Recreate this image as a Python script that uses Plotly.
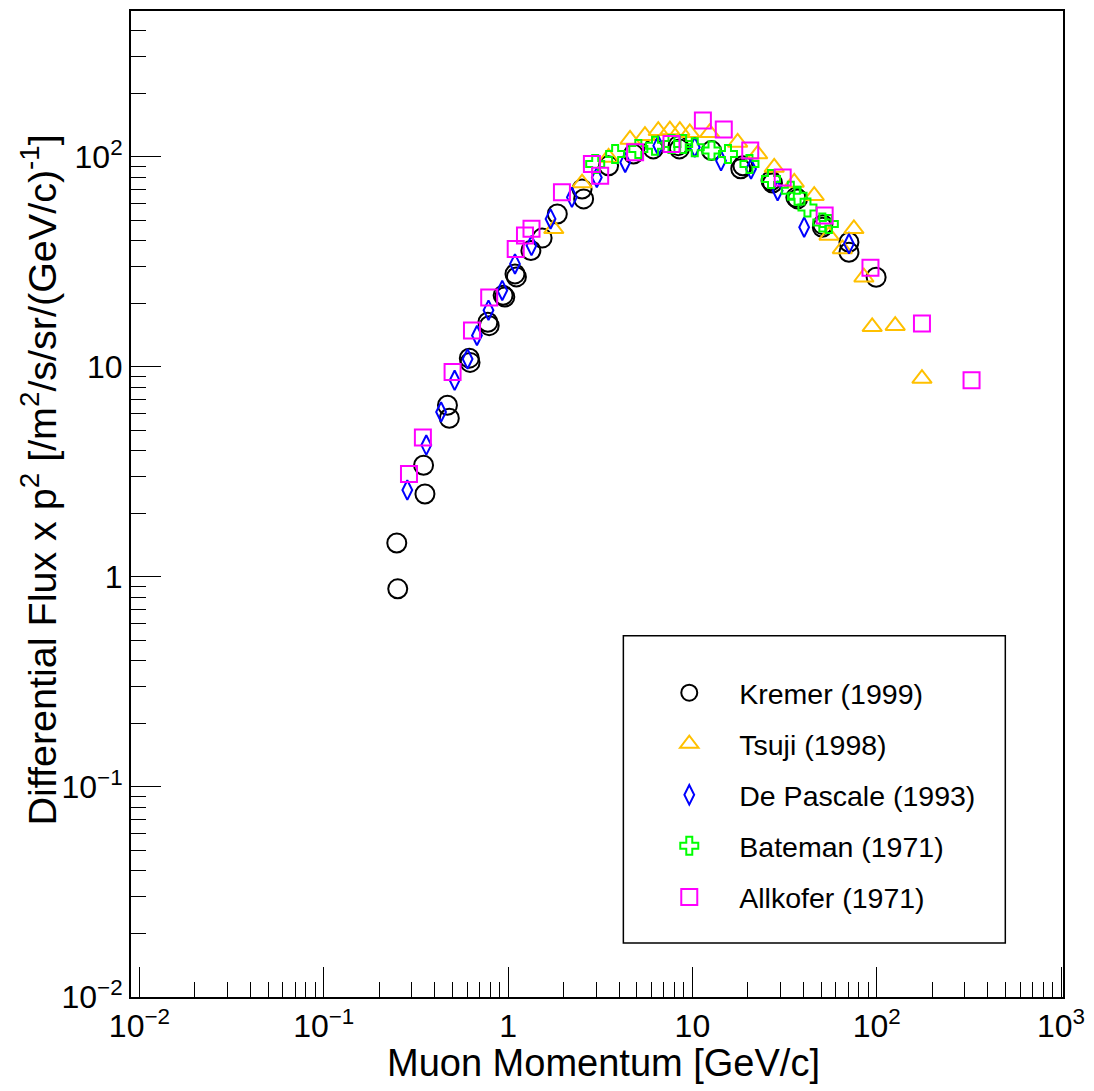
import plotly.graph_objects as go
import math

# ---------------- data ----------------
kremer_x = [0.249, 0.252, 0.348, 0.354, 0.469, 0.48, 0.616, 0.622, 0.777, 0.79, 0.94, 0.96,
            1.09, 1.11, 1.33, 1.53, 1.85, 2.52, 2.57, 3.51, 4.79, 6.14, 8.37, 8.5, 12.7,
            18.8, 18.3, 26.7, 27.2, 36.4, 37.2, 50.7, 51.0, 70.7, 70.7, 99.3]
kremer_y = [1.45, 0.877, 3.40, 2.48, 6.56, 5.69, 11.0, 10.5, 16.3, 15.7, 21.9, 21.5,
            27.7, 26.8, 35.8, 41.0, 53.4, 70.2, 63.0, 90.6, 103, 109, 113, 109, 107,
            90.6, 87.7, 76.9, 75.0, 64.1, 63.0, 46.2, 47.5, 39.2, 35.1, 26.7]

tsuji_x = [1.77, 2.52, 3.51, 4.59, 5.53, 6.53, 7.55, 8.55, 9.68, 12.4, 17.6, 22.6, 27.8,
           35.7, 45.8, 55.1, 65.1, 75.2, 85.2, 94.5, 126, 176]
tsuji_y = [45.4, 75.0, 99.3, 121, 126, 133, 134, 133, 130, 130, 117, 103, 89.0,
           75.5, 65.3, 42.2, 36.4, 45.4, 26.7, 15.5, 15.7, 8.79]

depascale_x = [0.284, 0.36, 0.433, 0.513, 0.603, 0.678, 0.783, 0.93, 1.09, 1.34, 1.70,
               2.22, 3.03, 4.32, 6.53, 10.3, 14.3, 20.8, 29.0, 40.4, 70.7]
depascale_y = [2.59, 4.24, 6.10, 8.63, 10.9, 14.1, 18.6, 23.1, 30.9, 37.8, 50.6,
               64.1, 79.7, 94.0, 113, 111, 95.7, 87.4, 68.9, 46.2, 38.5]

bateman_x = [2.97, 3.81, 5.09, 6.27, 7.70, 8.91, 10.3, 12.7, 15.6, 20.4, 26.7, 34.2,
             37.2, 42.1, 50.7, 55.0]
bateman_y = [92.3, 103, 109, 113, 115, 115, 111, 107, 103, 92.3, 78.3, 68.9,
             65.3, 57.4, 48.7, 47.8]

allkofer_x = [0.290, 0.345, 0.50, 0.637, 0.79, 1.10, 1.235, 1.34, 1.96, 2.85, 3.16, 4.89,
              7.70, 11.4, 14.8, 20.6, 30.9, 52.2, 92.5, 176, 327]
allkofer_y = [3.09, 4.61, 9.45, 14.9, 21.4, 36.4, 42.2, 45.4, 67.7, 92.3, 81.2, 105,
              115, 149, 135, 107, 79.7, 52.5, 29.6, 16.1, 8.63]

series_names = ["Kremer (1999)", "Tsuji (1998)", "De Pascale (1993)",
                "Bateman (1971)", "Allkofer (1971)"]

major_vals = [0.01, 0.1, 1, 10, 100, 1000]
x_tick_text = ["10<sup>\u22122</sup>", "10<sup>\u22121</sup>", "1", "10",
               "10<sup>2</sup>", "10<sup>3</sup>"]
y_major_vals = [0.01, 0.1, 1, 10, 100]
y_tick_text = ["10<sup>\u22122</sup>", "10<sup>\u22121</sup>", "1", "10", "10<sup>2</sup>"]

# ---------------- styles ----------------
styles = [
    dict(symbol="circle-open", size=19, color="black"),
    dict(symbol="triangle-up-open", size=17, color="#FFC000"),
    dict(symbol="diamond-tall-open", size=14, color="#0000FF"),
    dict(symbol="cross-open", size=15, color="#00FF00"),
    dict(symbol="square-open", size=16, color="#FF00FF"),
]
data = [(kremer_x, kremer_y), (tsuji_x, tsuji_y), (depascale_x, depascale_y),
        (bateman_x, bateman_y), (allkofer_x, allkofer_y)]

fig = go.Figure()
for i, ((xs, ys), name, st) in enumerate(zip(data, series_names, styles)):
    fig.add_trace(go.Scatter(
        x=xs, y=ys, mode="markers", name=name, legendgroup=f"g{i}",
        marker=dict(symbol=st["symbol"], size=st["size"], color=st["color"],
                    line=dict(color=st["color"], width=2)),
    ))

minor_vals = [k * 10 ** e for e in range(-3, 4) for k in range(2, 10)]

FONT = "Liberation Sans, Arial, Helvetica, sans-serif"

L, R, T, B = 131, 26, 9, 94
W, H = 1094, 1091
pw, ph = W - L - R, H - T - B


def px_x(p):
    return (p - L) / pw


def px_y(p):
    return (H - B - p) / ph


fig.update_layout(
    width=W, height=H,
    margin=dict(l=L, r=R, t=T, b=B, pad=0),
    paper_bgcolor="white", plot_bgcolor="white",
    font=dict(family=FONT, color="black"),
    showlegend=True,
    legend=dict(
        x=px_x(642), y=px_y(667), xanchor="left", yanchor="top",
        bgcolor="rgba(0,0,0,0)", borderwidth=0,
        font=dict(family=FONT, size=28.5, color="black"),
        itemwidth=90, tracegroupgap=11,
    ),
    xaxis=dict(
        type="log", range=[math.log10(0.009), math.log10(1025)],
        showgrid=False, zeroline=False,
        showline=True, linecolor="black", linewidth=2, mirror=True,
        ticks="inside", ticklen=30, tickwidth=1, tickcolor="black",
        tickvals=major_vals, ticktext=x_tick_text,
        tickfont=dict(family=FONT, size=32),
        minor=dict(tickvals=minor_vals, ticks="inside", ticklen=15,
                   tickwidth=1, tickcolor="black", showgrid=False),
    ),
    yaxis=dict(
        type="log", range=[-2, 2.694],
        showgrid=False, zeroline=False,
        showline=True, linecolor="black", linewidth=2, mirror=True,
        ticks="inside", ticklen=30, tickwidth=1, tickcolor="black",
        tickvals=y_major_vals, ticktext=y_tick_text,
        tickfont=dict(family=FONT, size=32),
        minor=dict(tickvals=minor_vals, ticks="inside", ticklen=15,
                   tickwidth=1, tickcolor="black", showgrid=False),
    ),
    shapes=[dict(type="rect", xref="paper", yref="paper",
                 x0=px_x(626), x1=px_x(1010), y0=px_y(943), y1=px_y(635),
                 line=dict(color="black", width=1.5), fillcolor="rgba(0,0,0,0)",
                 layer="below")],
    annotations=[
        dict(text="Muon Momentum [GeV/c]", xref="paper", yref="paper",
             x=px_x(606), y=px_y(1063), xanchor="center", yanchor="middle",
             showarrow=False, font=dict(family=FONT, size=38, color="black")),
        dict(text="Differential Flux x p<sup>2</sup> [/m<sup>2</sup>/s/sr/(GeV/c)<sup>-1</sup>]",
             xref="paper", yref="paper", textangle=-90,
             x=px_x(39), y=px_y(479), xanchor="center", yanchor="middle",
             showarrow=False, font=dict(family=FONT, size=39.5, color="black")),
    ],
)

fig.write_html("out.html")
